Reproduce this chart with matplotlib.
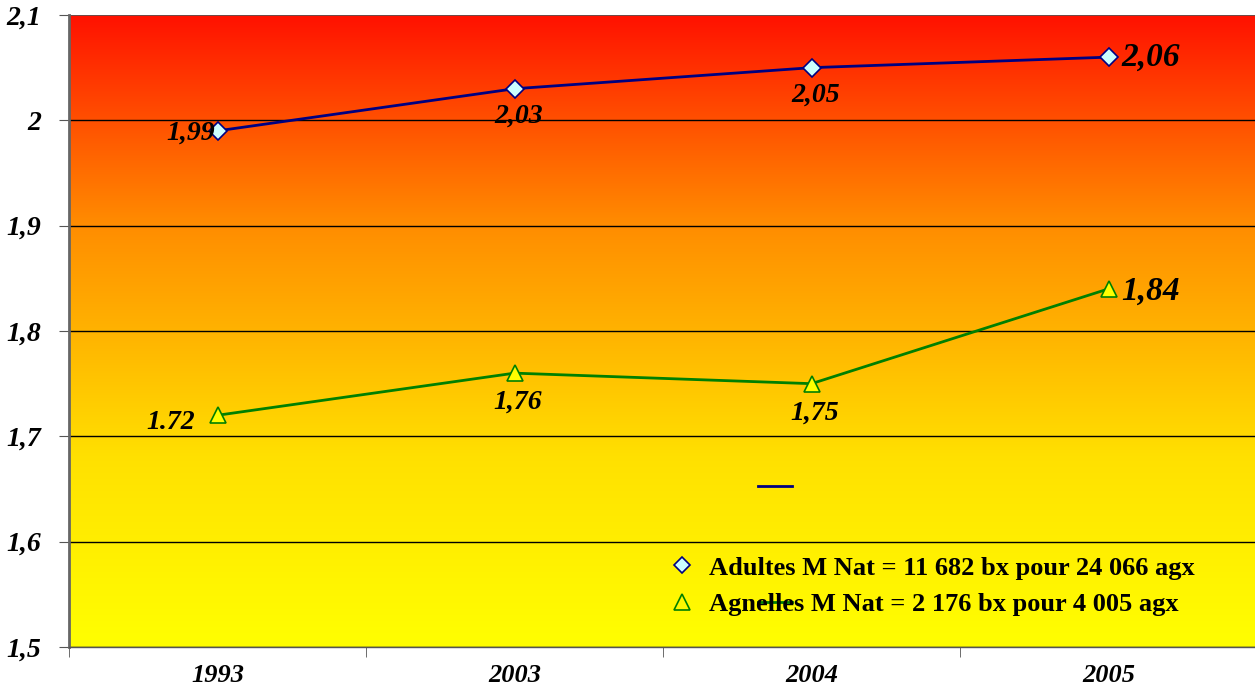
import numpy as np
import matplotlib
matplotlib.use("Agg")
import matplotlib.pyplot as plt
from matplotlib.colors import LinearSegmentedColormap
from matplotlib.lines import Line2D

years = ["1993", "2003", "2004", "2005"]
adultes = [1.99, 2.03, 2.05, 2.06]
agnelles = [1.72, 1.76, 1.75, 1.84]
adultes_labels = ["1,99", "2,03", "2,05", "2,06"]
agnelles_labels = ["1.72", "1,76", "1,75", "1,84"]
yticks = [1.5, 1.6, 1.7, 1.8, 1.9, 2.0, 2.1]
ytick_labels = ["1,5", "1,6", "1,7", "1,8", "1,9", "2", "2,1"]
legend_labels = ["Adultes M Nat = 11 682 bx pour 24 066 agx",
                 "Agnelles M Nat = 2 176 bx pour 4 005 agx"]

serif = ["Liberation Serif", "DejaVu Serif"]

fig = plt.figure(figsize=(12.55, 6.86), dpi=100)
ax = fig.add_axes([69/1255, 1 - 647/686, (1257-69)/1255, (647-15)/686])

x = np.arange(len(years))
ax.set_xlim(-0.5, 3.5)
ax.set_ylim(1.5, 2.1)

# gradient background (yellow at bottom to red at top)
cmap = LinearSegmentedColormap.from_list(
    "ry", [(0.0, (1.0, 1.0, 0.0)), (0.3, (1.0, 0.88, 0.0)), (0.5, (1.0, 0.70, 0.0)),
           (0.67, (1.0, 0.55, 0.0)), (0.83, (1.0, 0.32, 0.0)), (1.0, (1.0, 0.07, 0.0))])
grad = np.linspace(0, 1, 256).reshape(-1, 1)
ax.imshow(grad, extent=[-0.5, 3.5, 1.5, 2.1], origin="lower", aspect="auto",
          cmap=cmap, zorder=0)

for yv in yticks[:-1]:
    ax.axhline(yv, color="black", lw=1.0, zorder=1)
ax.axhline(yticks[-1], color="#555555", lw=1.2, zorder=1)

ax.plot(x, adultes, color="#000080", lw=2, marker="D", markersize=9,
        markerfacecolor="#CCFFFF", markeredgecolor="#000080", markeredgewidth=1.2, zorder=3)
ax.plot(x, agnelles, color="#008000", lw=2, marker="^", markersize=12,
        markerfacecolor="#FFFF00", markeredgecolor="#008000", markeredgewidth=1.2, zorder=3)

fs = 20
txt = dict(fontweight="bold", fontstyle="italic", family=serif)
# adultes labels
ax.annotate(adultes_labels[0], (x[0], adultes[0]), xytext=(-2, -2), textcoords="offset points",
            ha="right", va="center", fontsize=fs, **txt)
for i in (1, 2):
    ax.annotate(adultes_labels[i], (x[i], adultes[i]), xytext=(3, -11), textcoords="offset points",
                ha="center", va="top", fontsize=fs, **txt)
ax.annotate(adultes_labels[3], (x[3], adultes[3]), xytext=(9, 0), textcoords="offset points",
            ha="left", va="center", fontsize=24, **txt)
# agnelles labels
ax.annotate(agnelles_labels[0], (x[0], agnelles[0]), xytext=(-16, -5), textcoords="offset points",
            ha="right", va="center", fontsize=fs, **txt)
for i in (1, 2):
    ax.annotate(agnelles_labels[i], (x[i], agnelles[i]), xytext=(2, -12), textcoords="offset points",
                ha="center", va="top", fontsize=fs, **txt)
ax.annotate(agnelles_labels[3], (x[3], agnelles[3]), xytext=(9, -2), textcoords="offset points",
            ha="left", va="center", fontsize=24, **txt)

# axes styling
ax.set_yticks(yticks)
ax.set_yticklabels(ytick_labels, fontsize=fs, **txt)
ax.set_xticks(x)
ax.set_xticklabels(years, fontsize=19, **txt)
ax.set_xticks([-0.5, 0.5, 1.5, 2.5, 3.5], minor=True)
ax.tick_params(axis="x", which="major", length=0, pad=12)
ax.tick_params(axis="x", which="minor", length=7, color="#555555", direction="out")
ax.tick_params(axis="y", length=7, color="#555555", direction="out", pad=13)
for s in ["top", "right"]:
    ax.spines[s].set_visible(False)
ax.spines["left"].set_color("#666666")
ax.spines["left"].set_linewidth(2)
ax.spines["bottom"].set_color("#555555")
ax.spines["bottom"].set_linewidth(1)

# legend (markers only, as in the original)
handles = [Line2D([], [], ls="none", marker="D", markersize=8, markerfacecolor="#CCFFFF",
                  markeredgecolor="#000080", markeredgewidth=1.2),
           Line2D([], [], ls="none", marker="^", markersize=11, markerfacecolor="none",
                  markeredgecolor="#008000", markeredgewidth=1.2)]
leg = ax.legend(handles, legend_labels, loc="lower left", bbox_to_anchor=(0.485, 0.011),
                frameon=False, prop={"family": serif, "weight": "bold", "size": 19},
                handletextpad=0.5, labelspacing=0.5, handlelength=1.0)

# stray legend line samples (artifact of the original)
ax.plot([0.580, 0.609], [0.2547, 0.2547], transform=ax.transAxes, color="#000080", lw=2, zorder=4)
ax.plot([0.580, 0.609], [0.0712, 0.0712], transform=ax.transAxes, color="#008000", lw=2, zorder=4)

fig.savefig("out.png", dpi=100)
